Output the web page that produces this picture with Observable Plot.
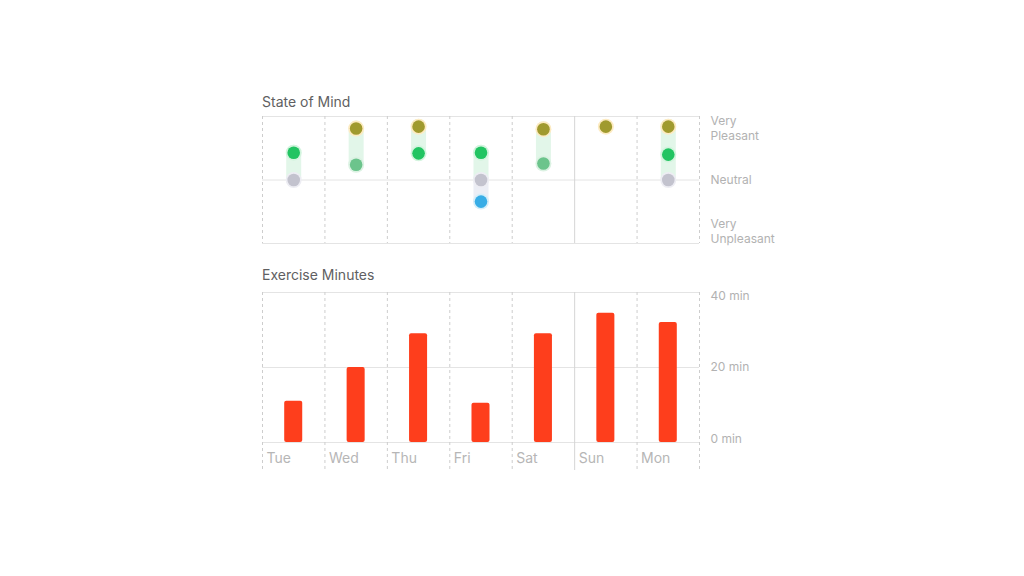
<!DOCTYPE html>
<html>
<head>
<meta charset="utf-8">
<script src="https://cdn.jsdelivr.net/npm/d3@7"></script>
<script src="https://cdn.jsdelivr.net/npm/@observablehq/plot@0.6"></script>
<style>
  html, body { margin: 0; padding: 0; background: #fff; width: 1024px; height: 576px; overflow: hidden; }
  body { position: relative; font-family: Inter, "Noto Sans", sans-serif; }
  .title { position: absolute; left: 262px; font-size: 14px; line-height: 16px; color: #5f5f62; }
  .chart { position: absolute; left: 252px; }
</style>
</head>
<body>
<div class="title" style="top:94px">State of Mind</div>
<div class="chart" id="mood" style="top:106px"></div>
<div class="title" style="top:267px">Exercise Minutes</div>
<div class="chart" id="exercise" style="top:282px"></div>
<script>
const days = ["Tue", "Wed", "Thu", "Fri", "Sat", "Sun", "Mon"];
const minutes = [11, 20, 29, 10.5, 29, 34.5, 32];

const moodDays   = ["Tue", "Tue", "Wed", "Wed", "Thu", "Thu", "Fri", "Fri", "Fri", "Sat", "Sat", "Sun", "Mon", "Mon", "Mon"];
const moodValues = [0.43, 0, 0.81, 0.24, 0.84, 0.42, 0.43, 0, -0.34, 0.80, 0.26, 0.84, 0.84, 0.40, 0];
const moodKinds  = ["pleasant", "neutral", "veryPleasant", "slightlyPleasant", "veryPleasant", "pleasant",
                    "pleasant", "neutral", "unpleasant", "veryPleasant", "slightlyPleasant", "veryPleasant",
                    "veryPleasant", "pleasant", "neutral"];

const moodTicks = [1, 0, -1];
const moodTickLabels = ["Very\nPleasant", "Neutral", "Very\nUnpleasant"];
const minuteTicks = [0, 20, 40];
const minuteTickLabels = ["0 min", "20 min", "40 min"];

const dotColor = {veryPleasant: "#a09a2e", pleasant: "#22c462", slightlyPleasant: "#6cc48c", neutral: "#c3c3ce", unpleasant: "#38ade6"};
const haloColor = {veryPleasant: "#fdebc2", pleasant: "#d3f4de", slightlyPleasant: "#dcf2e3", neutral: "#ededf3", unpleasant: "#d5eef9"};

const weekBoundary = days.indexOf("Sun");
const boundaries = d3.range(days.length + 1);

const mood = moodDays.map((d, i) => ({day: d, i: days.indexOf(d), value: moodValues[i], kind: moodKinds[i]}));
const segments = [];
for (const [day, rows] of d3.group(mood, d => d.day)) {
  const s = rows.slice().sort((a, b) => a.value - b.value);
  for (let k = 0; k + 1 < s.length; k++) {
    segments.push({i: s[k].i, lo: s[k].value, hi: s[k + 1].value, color: s[k + 1].kind === "neutral" ? "#eceef5" : "#e2f6e9"});
  }
}
const exercise = days.map((d, i) => ({day: d, i, value: minutes[i]}));

const gridColor = "#e4e4e4";
const dashColor = "#cdcdcd";
const labelColor = "#b2b2b2";
const W = 537;

const vRules = [
  Plot.ruleX(boundaries.filter(b => b !== weekBoundary), {x: d => d, stroke: dashColor, strokeDasharray: "3,3", strokeWidth: 1}),
  Plot.ruleX([weekBoundary], {x: d => d, stroke: "#d6d6d6", strokeWidth: 1})
];

const moodPlot = Plot.plot({
  width: W, height: 145,
  marginLeft: 10, marginRight: 90, marginTop: 10, marginBottom: 8,
  style: {fontFamily: "Inter, 'Noto Sans', sans-serif", background: "transparent", overflow: "visible"},
  x: {type: "linear", domain: [0, days.length], axis: null},
  y: {domain: [-1, 1], axis: null},
  marks: [
    Plot.ruleY(moodTicks, {y: d => d, stroke: gridColor}),
    ...vRules,
    Plot.ruleX(segments, {x: d => d.i + 0.5, y1: "lo", y2: "hi", stroke: "color", strokeWidth: 15, strokeLinecap: "round"}),
    Plot.dot(mood, {x: d => d.i + 0.5, y: "value", r: 8, fill: d => haloColor[d.kind], stroke: "none"}),
    Plot.dot(mood, {x: d => d.i + 0.5, y: "value", r: 6.3, fill: d => dotColor[d.kind], stroke: "none"}),
    Plot.text([0], {x: days.length, y: moodTicks[0], text: () => moodTickLabels[0], dx: 11, dy: -2, textAnchor: "start", lineAnchor: "top", fontSize: 12, lineHeight: 1.25, fill: labelColor}),
    Plot.text([0], {x: days.length, y: moodTicks[1], text: () => moodTickLabels[1], dx: 11, textAnchor: "start", lineAnchor: "middle", fontSize: 12, fill: labelColor}),
    Plot.text([0], {x: days.length, y: moodTicks[2], text: () => moodTickLabels[2], dx: 11, dy: -1, textAnchor: "start", lineAnchor: "bottom", fontSize: 12, lineHeight: 1.25, fill: labelColor})
  ]
});
document.getElementById("mood").appendChild(moodPlot);

const tickShift = [-3, 0, 4];
const exercisePlot = Plot.plot({
  width: W, height: 188,
  marginLeft: 10, marginRight: 90, marginTop: 10, marginBottom: 0,
  style: {fontFamily: "Inter, 'Noto Sans', sans-serif", background: "transparent", overflow: "visible"},
  x: {type: "linear", domain: [0, days.length], axis: null},
  y: {domain: [0, 40], range: [160, 10], axis: null},
  marks: [
    Plot.ruleY(minuteTicks, {y: d => d, stroke: gridColor}),
    ...vRules,
    Plot.rectY(exercise, {x: "i", interval: 1, y: "value", fill: "#fe3e1c", insetLeft: 22.2, insetRight: 22.2, rx: 2}),
    ...minuteTicks.map((t, i) => Plot.text([t], {x: days.length, y: d => d, text: () => minuteTickLabels[i], dx: 11, dy: tickShift[i], textAnchor: "start", fontSize: 12, fill: labelColor})),
    Plot.text(exercise, {x: "i", y: 0, text: "day", dx: 4, dy: 16, textAnchor: "start", fontSize: 14, fill: "#b6b6b6"})
  ]
});
document.getElementById("exercise").appendChild(exercisePlot);
</script>
</body>
</html>
